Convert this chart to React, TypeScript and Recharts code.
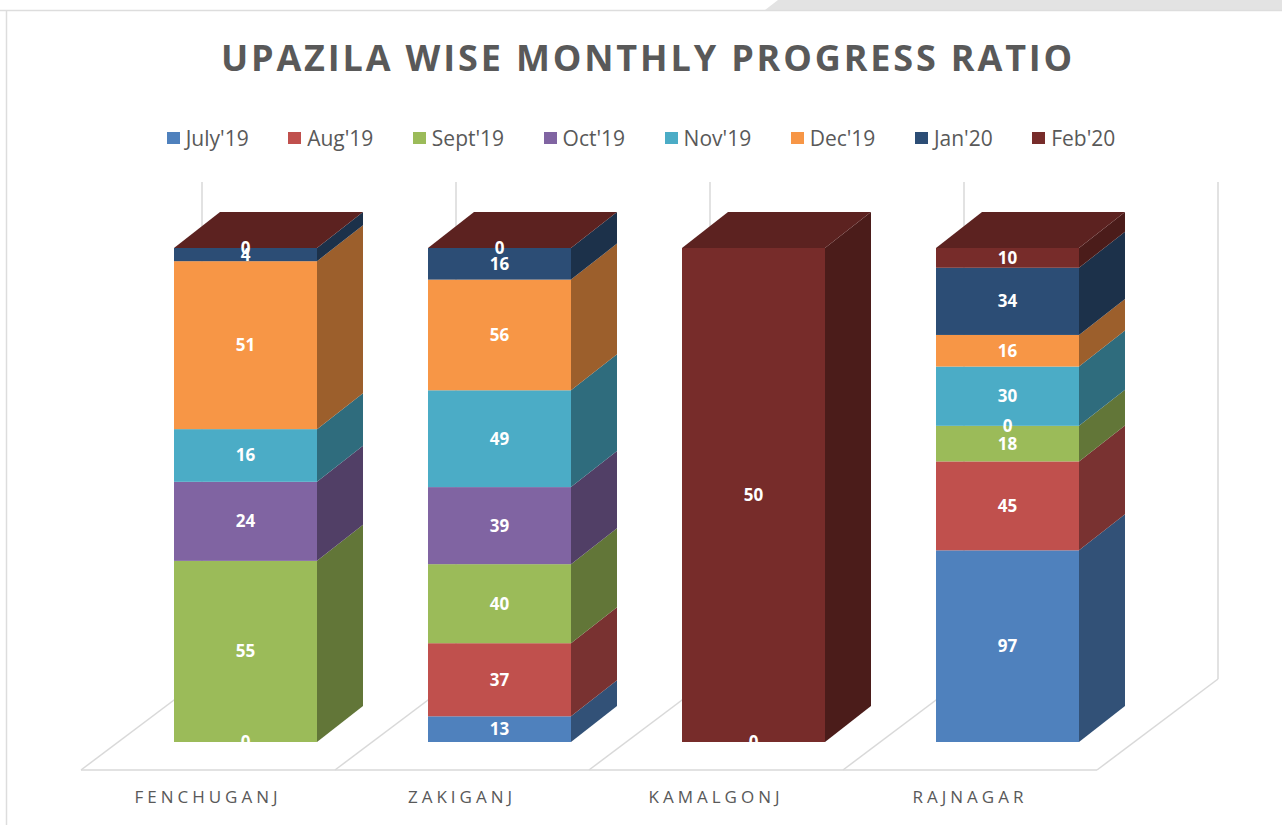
import React from 'react';
import { BarChart, Bar, XAxis, YAxis, Legend, LabelList } from 'recharts';

// categories and monthly counts, nulls where no label is shown
const upazilas = ['FENCHUGANJ', 'ZAKIGANJ', 'KAMALGONJ', 'RAJNAGAR'];
const months = ["July'19", "Aug'19", "Sept'19", "Oct'19", "Nov'19", "Dec'19", "Jan'20", "Feb'20"];
const monthColors = ['#4F81BD', '#C0504D', '#9BBB59', '#8064A2', '#4BACC6', '#F79646', '#2C4D75', '#772C2A'];

const july19 = [0, 13, 0, 97];
const aug19 = [null, 37, null, 45];
const sept19 = [55, 40, null, 18];
const oct19 = [24, 39, null, 0];
const nov19 = [16, 49, null, 30];
const dec19 = [51, 56, null, 16];
const jan20 = [4, 16, null, 34];
const feb20 = [0, 0, 50, 10];

const series = [july19, aug19, sept19, oct19, nov19, dec19, jan20, feb20];

const rows = upazilas.map((name, i) => {
  const row: Record<string, any> = { name };
  months.forEach((m, k) => {
    row[m] = series[k][i];
  });
  return row;
});

const FONT = "'Open Sans', 'DejaVu Sans', sans-serif";
const GREY = '#595959';
const DX = 46; // 3d depth offsets
const DY = 36;
const TICK_SHIFT = 37;

const shade = (hex: string, f: number) => {
  const n = parseInt(hex.slice(1), 16);
  const r = Math.round(((n >> 16) & 255) * f);
  const g = Math.round(((n >> 8) & 255) * f);
  const b = Math.round((n & 255) * f);
  return `rgb(${r},${g},${b})`;
};

const makeShape = (color: string, isTop: boolean) => (props: any) => {
  const { x, y, width, height } = props;
  if (x == null || y == null) return <g />;
  const h = height || 0;
  return (
    <g>
      <rect x={x} y={y} width={width} height={h} fill={color} />
      <polygon
        points={`${x + width},${y} ${x + width + DX},${y - DY} ${x + width + DX},${y + h - DY} ${x + width},${y + h}`}
        fill={shade(color, 0.63)}
      />
      {isTop && (
        <polygon
          points={`${x},${y} ${x + DX},${y - DY} ${x + width + DX},${y - DY} ${x + width},${y}`}
          fill={shade(color, 0.77)}
        />
      )}
    </g>
  );
};

const renderValue = (props: any) => {
  const { value } = props;
  if (value === null || value === undefined) return null;
  const vb = props.viewBox || props;
  const { x, y, width, height } = vb;
  return (
    <text
      x={x + width / 2}
      y={y + height / 2}
      dy={6}
      textAnchor="middle"
      fill="#fff"
      fontSize={17}
      fontWeight={700}
      fontFamily={FONT}
    >
      {value}
    </text>
  );
};

const CategoryTick = (props: any) => {
  const { x, y, payload } = props;
  return (
    <text
      x={x - TICK_SHIFT}
      y={y + 61}
      textAnchor="middle"
      fill={GREY}
      fontSize={17}
      letterSpacing={4}
      fontFamily={FONT}
    >
      {payload.value}
    </text>
  );
};

const renderLegend = (props: any) => {
  const items = [...(props.payload || [])].sort(
    (a: any, b: any) => months.indexOf(a.value) - months.indexOf(b.value)
  );
  return (
    <div style={{ display: 'flex', justifyContent: 'center', gap: 39.5, fontFamily: FONT, fontSize: 21, color: GREY }}>
      {items.map((entry: any) => (
        <div key={entry.value} style={{ display: 'flex', alignItems: 'center' }}>
          <span style={{ display: 'inline-block', width: 13, height: 12, background: entry.color, marginRight: 6 }} />
          <span>{entry.value}</span>
        </div>
      ))}
    </div>
  );
};

const wallX = [202, 456, 710, 964, 1218];
const frontX = [81, 335, 589, 843, 1097];

const Backdrop = () => (
  <svg width={1282} height={825} style={{ position: 'absolute', left: 0, top: 0 }}>
    <rect x={0} y={0} width={1282} height={825} fill="#fff" />
    <polygon points="778,0 1282,0 1282,10 765,10" fill="#E3E3E3" />
    <line x1={0} y1={10.5} x2={1282} y2={10.5} stroke="#DDDDDD" strokeWidth={1.5} />
    <line x1={6.5} y1={10} x2={6.5} y2={825} stroke="#DDDDDD" strokeWidth={1.5} />
    {wallX.map((x) => (
      <line key={`w${x}`} x1={x} y1={182} x2={x} y2={679} stroke="#D9D9D9" strokeWidth={1.5} />
    ))}
    {frontX.map((x, i) => (
      <line key={`d${x}`} x1={x} y1={770} x2={wallX[i]} y2={679} stroke="#D9D9D9" strokeWidth={1.5} />
    ))}
    <line x1={frontX[0]} y1={770} x2={frontX[4]} y2={770} stroke="#D9D9D9" strokeWidth={1.5} />
    <text
      x={648}
      y={71}
      textAnchor="middle"
      fill={GREY}
      fontSize={36}
      fontWeight={700}
      letterSpacing={2.85}
      fontFamily={FONT}
    >
      UPAZILA WISE MONTHLY PROGRESS RATIO
    </text>
  </svg>
);

export default function App() {
  return (
    <div style={{ position: 'absolute', left: 0, top: 0, width: 1282, height: 825, fontFamily: FONT }}>
      <Backdrop />
      <div style={{ position: 'absolute', left: 0, top: 0 }}>
        <BarChart
          width={1282}
          height={825}
          data={rows}
          stackOffset="expand"
          barSize={143}
          margin={{ top: 248, right: 148, bottom: 53, left: 118 }}
        >
          <XAxis
            dataKey="name"
            axisLine={false}
            tickLine={false}
            tickSize={0}
            tickMargin={0}
            interval={0}
            tick={<CategoryTick />}
          />
          <YAxis hide domain={[0, 1]} />
          <Legend
            verticalAlign="middle"
            align="center"
            layout="horizontal"
            wrapperStyle={{ top: 124, left: 0, width: 1282 }}
            content={renderLegend}
          />
          {months.map((m, i) => (
            <Bar
              key={m}
              dataKey={m}
              stackId="a"
              fill={monthColors[i]}
              isAnimationActive={false}
              shape={makeShape(monthColors[i], i === months.length - 1)}
            >
              <LabelList dataKey={m} content={renderValue} />
            </Bar>
          ))}
        </BarChart>
      </div>
    </div>
  );
}
